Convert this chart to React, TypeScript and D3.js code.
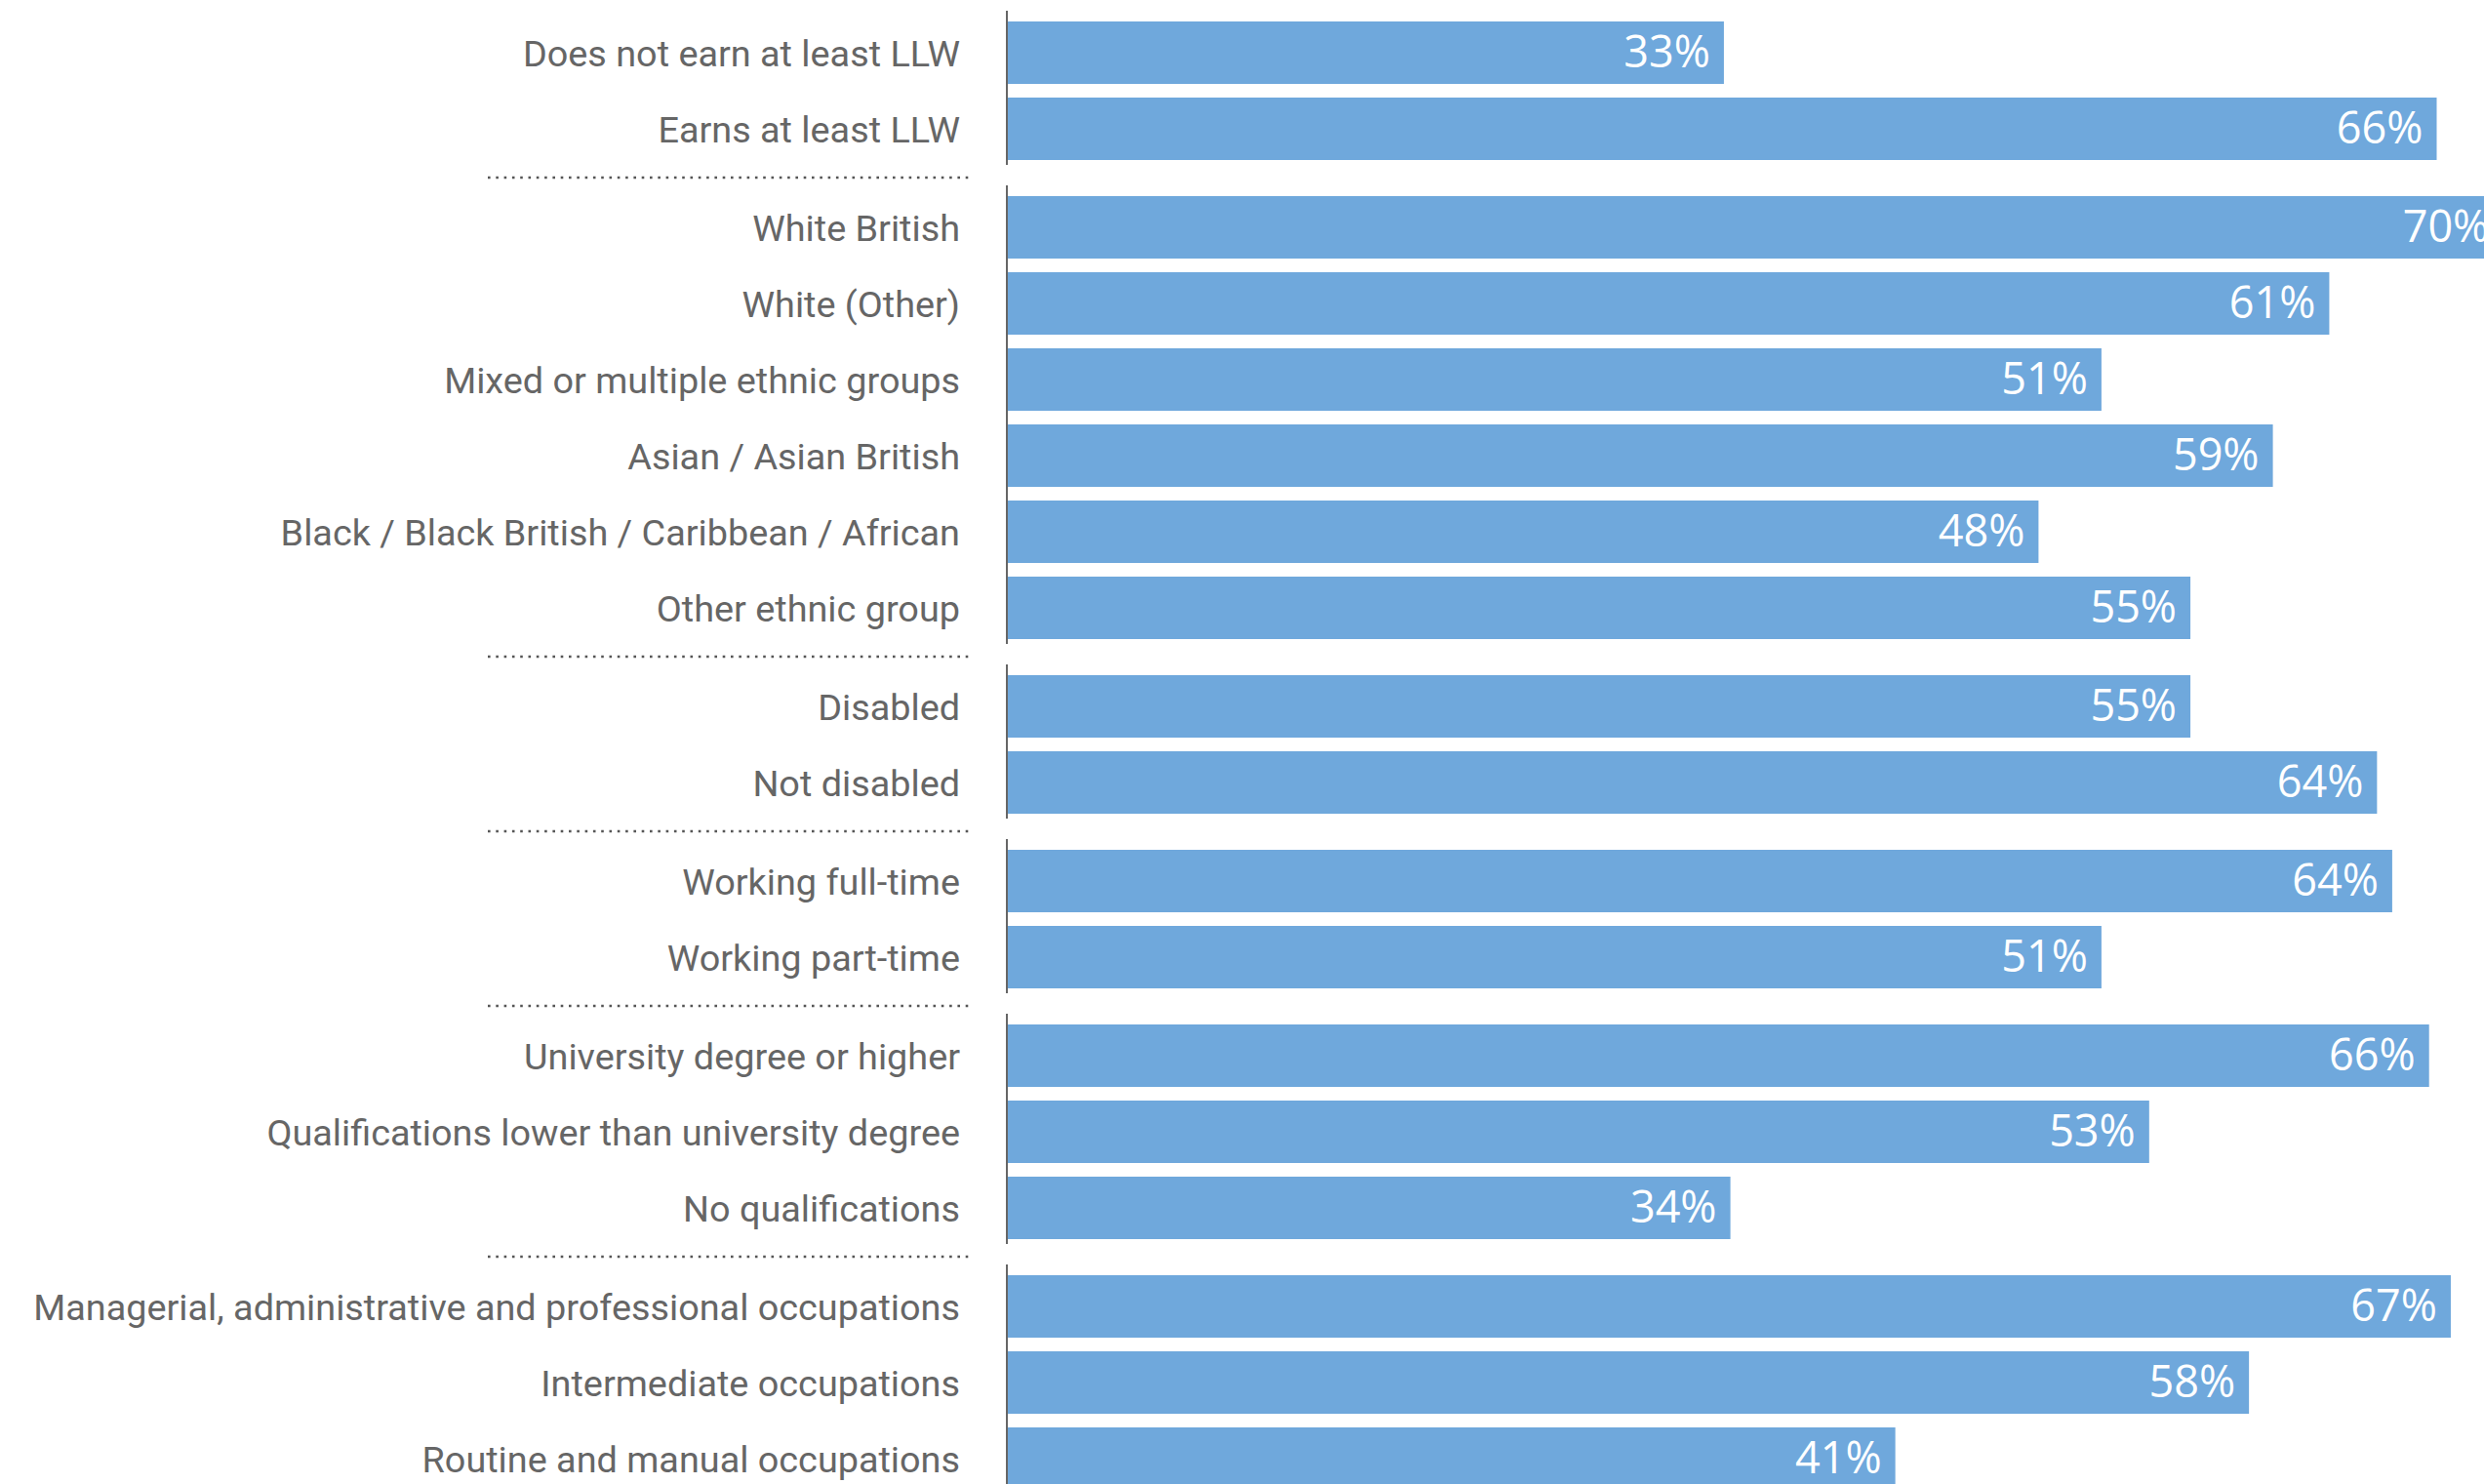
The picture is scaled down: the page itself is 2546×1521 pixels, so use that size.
import React from "react";
import * as d3 from "d3";

const categories = [
  "Does not earn at least LLW",
  "Earns at least LLW",
  "White British",
  "White (Other)",
  "Mixed or multiple ethnic groups",
  "Asian / Asian British",
  "Black / Black British / Caribbean / African",
  "Other ethnic group",
  "Disabled",
  "Not disabled",
  "Working full-time",
  "Working part-time",
  "University degree or higher",
  "Qualifications lower than university degree",
  "No qualifications",
  "Managerial, administrative and professional occupations",
  "Intermediate occupations",
  "Routine and manual occupations",
];

const groupIds = [0, 0, 1, 1, 1, 1, 1, 1, 2, 2, 3, 3, 4, 4, 4, 5, 5, 5];

const values = [
  33.0, 65.85, 68.9, 60.9, 50.4, 58.3, 47.5, 54.5, 54.5, 63.1, 63.8, 50.4,
  65.5, 52.6, 33.3, 66.5, 57.2, 40.9,
];

const valueLabels = [
  "33%", "66%", "70%", "61%", "51%", "59%", "48%", "55%", "55%", "64%",
  "64%", "51%", "66%", "53%", "34%", "67%", "58%", "41%",
];

const W = 2546;
const H = 1521;
const BAR_COLOR = "#6fa8dc";
const TEXT_COLOR = "#666666";
const AXIS_COLOR = "#666666";

export default function App() {
  const x0 = 1033;
  const x = d3.scaleLinear().domain([0, 100]).range([x0, x0 + 2224]);
  const slot = d3.scaleLinear().domain([0, 1]).range([22, 100]);
  const groupGap = 23;
  const barH = 64;

  const rows = categories.map((c, i) => {
    const g = groupIds[i];
    const top = slot(i) + g * groupGap;
    return { c, i, g, top, v: values[i], label: valueLabels[i] };
  });

  const groups = d3.groups(rows, (r) => r.g).map(([g, rs]) => ({
    g,
    top: d3.min(rs, (r) => r.top) as number,
    bottom: (d3.max(rs, (r) => r.top) as number) + barH,
  }));

  return (
    <svg
      width={W}
      height={H}
      style={{ position: "absolute", left: 0, top: 0, background: "#fff" }}
    >
      {rows.map((r) => (
        <g key={r.i}>
          <rect
            x={x(0)}
            y={r.top}
            width={x(r.v) - x(0)}
            height={barH}
            fill={BAR_COLOR}
          />
          <text
            x={984}
            y={r.top + barH / 2 + 14}
            textAnchor="end"
            fontFamily="Roboto, sans-serif"
            fontSize={37.8}
            fill={TEXT_COLOR}
          >
            {r.c}
          </text>
          <text
            x={x(r.v) - 14}
            y={r.top + barH / 2 + 15}
            textAnchor="end"
            fontFamily="'Open Sans', sans-serif"
            fontSize={45}
            fill="#ffffff"
          >
            {r.label}
          </text>
        </g>
      ))}
      {groups.map((gr) => (
        <line
          key={"ax" + gr.g}
          x1={1032}
          x2={1032}
          y1={gr.top - 11}
          y2={gr.bottom + 5}
          stroke={AXIS_COLOR}
          strokeWidth={2}
        />
      ))}
      {groups.slice(0, -1).map((gr) => (
        <line
          key={"sep" + gr.g}
          x1={500}
          x2={998}
          y1={gr.bottom + 18}
          y2={gr.bottom + 18}
          stroke="#555555"
          strokeWidth={2.6}
          strokeDasharray="2.6 5.7"
        />
      ))}
    </svg>
  );
}
